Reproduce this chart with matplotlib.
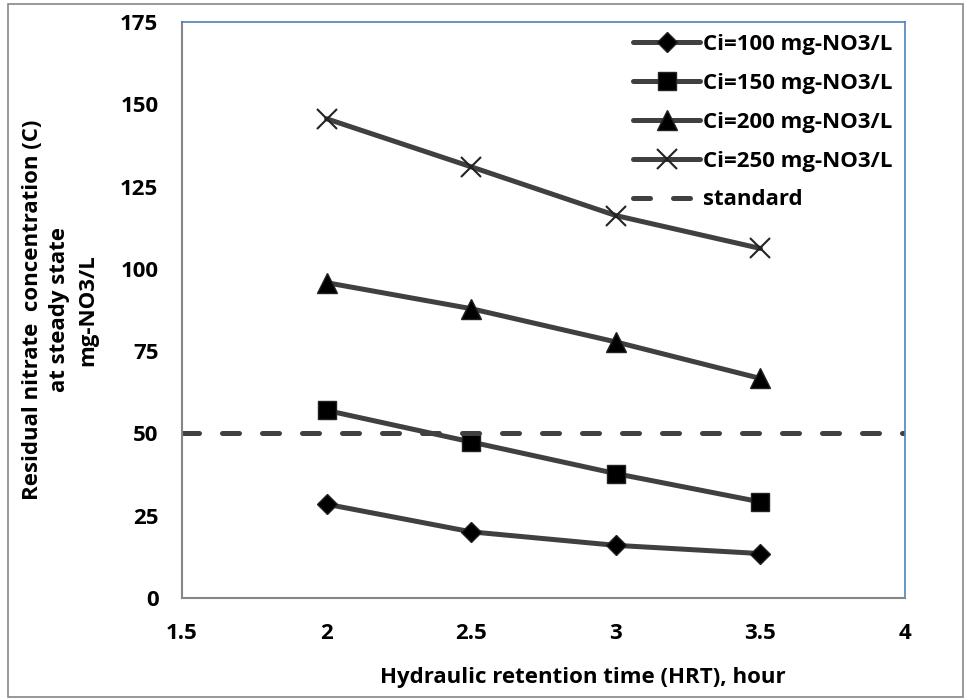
import matplotlib
matplotlib.use("Agg")
import matplotlib.pyplot as plt
from matplotlib.patches import Rectangle

hrt = [2, 2.5, 3, 3.5]
c100 = [28.5, 20.1, 16.0, 13.5]
c150 = [57.0, 47.4, 37.8, 29.2]
c200 = [95.8, 87.9, 77.8, 66.7]
c250 = [145.6, 131.0, 116.2, 106.2]
standard = 50
labels = ["Ci=100 mg-NO3/L", "Ci=150 mg-NO3/L", "Ci=200 mg-NO3/L", "Ci=250 mg-NO3/L", "standard"]
xticks = [1.5, 2, 2.5, 3, 3.5, 4]
yticks = [0, 25, 50, 75, 100, 125, 150, 175]

plt.rcParams['font.family'] = ['Open Sans', 'DejaVu Sans']
plt.rcParams['font.weight'] = 'bold'
FS = 16

fig = plt.figure(figsize=(9.65, 6.99), dpi=100)
ax = fig.add_axes([182/965, 1-598/699, (905-182)/965, (598-22)/699])

line_kw = dict(color='#404040', lw=3.6, markeredgecolor='#222222', markerfacecolor='black',
               solid_joinstyle='round', solid_capstyle='round')
ax.plot(hrt, c100, marker='D', ms=10, label=labels[0], **line_kw)
ax.plot(hrt, c150, marker='s', ms=13.5, label=labels[1], **line_kw)
ax.plot(hrt, c200, marker='^', ms=14, label=labels[2], **line_kw)
ax.plot(hrt, c250, marker='x', ms=14, mew=1.5, label=labels[3], **line_kw)
ax.axhline(standard, color='#404040', lw=3.6, ls=(0, (3.4, 4.6)), dash_capstyle='round',
           label=labels[4])

ax.set_xlim(1.5, 4)
ax.set_ylim(0, 175)
ax.set_xticks(xticks)
ax.set_xticklabels([f"{t:g}" for t in xticks])
ax.set_yticks(yticks)
ax.tick_params(axis='y', length=0, labelsize=FS, pad=17)
ax.tick_params(axis='x', length=0, labelsize=FS, pad=18)
for lab in ax.get_xticklabels() + ax.get_yticklabels():
    lab.set_fontweight('bold')

for s in ['left', 'bottom']:
    ax.spines[s].set_color('#868686')
    ax.spines[s].set_linewidth(1.5)
for s in ['top', 'right']:
    ax.spines[s].set_color('#4F81BD')
    ax.spines[s].set_linewidth(1.2)

fig.text((382+783)/2/965, 1-678/699, "Hydraulic retention time (HRT), hour", fontsize=FS,
         fontweight='bold', ha='center', va='center')
fig.text(60/965, 1-310/699, "Residual nitrate  concentration (C)\nat steady state\nmg-NO3/L",
         fontsize=FS, fontweight='bold', rotation=90, ha='center', va='center',
         multialignment='center', linespacing=1.4)

leg = ax.legend(loc='upper right', frameon=False, fontsize=FS, handlelength=3.0,
                handletextpad=0.15, labelspacing=0.8, borderaxespad=0.15,
                bbox_to_anchor=(1.0, 1.0))
for t in leg.get_texts():
    t.set_fontweight('bold')

fig.patches.append(Rectangle((8/965, 2/699), (963-8)/965, (695-2)/699, transform=fig.transFigure,
                             fill=False, edgecolor='#868686', lw=1.2))

fig.savefig("out.png", dpi=100)
